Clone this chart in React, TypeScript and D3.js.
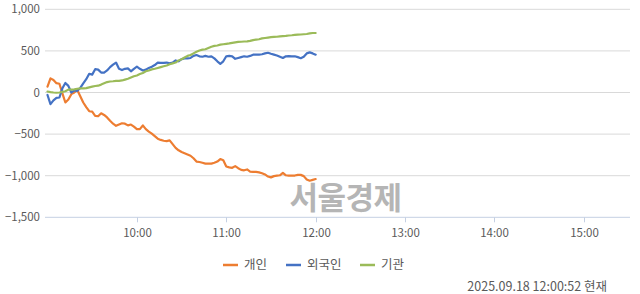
import React from "react";
import * as d3 from "d3";

const times = [
  "09:00","09:02","09:04","09:06","09:08","09:10","09:12","09:14","09:16","09:18",
  "09:20","09:22","09:24","09:26","09:28","09:30","09:32","09:34","09:36","09:38",
  "09:40","09:42","09:44","09:46","09:48","09:50","09:52","09:54","09:56","09:58",
  "10:00","10:02","10:04","10:06","10:08","10:10","10:12","10:14","10:16","10:18",
  "10:20","10:22","10:24","10:26","10:28","10:30","10:32","10:34","10:36","10:38",
  "10:40","10:42","10:44","10:46","10:48","10:50","10:52","10:54","10:56","10:58",
  "11:00","11:02","11:04","11:06","11:08","11:10","11:12","11:14","11:16","11:18",
  "11:20","11:22","11:24","11:26","11:28","11:30","11:32","11:34","11:36","11:38",
  "11:40","11:42","11:44","11:46","11:48","11:50","11:52","11:54","11:56","11:58",
  "12:00",
];

const individual = [
  70, 170, 150, 112, 105, -10, -120, -85, -20, 0,
  30, -45, -120, -175, -225, -230, -280, -285, -250, -270,
  -300, -340, -375, -400, -385, -370, -375, -395, -385, -410,
  -440, -440, -395, -440, -470, -495, -525, -555, -570, -580,
  -585, -575, -620, -665, -695, -715, -730, -745, -760, -790,
  -830, -835, -845, -855, -855, -855, -845, -830, -800, -815,
  -890, -900, -905, -885, -910, -930, -935, -925, -950, -955,
  -955, -960, -970, -985, -1010, -1020, -1005, -1000, -995, -965,
  -995, -1000, -1000, -998, -990, -990, -1005, -1045, -1060, -1050,
  -1040,
];

const foreign = [
  -30, -140, -95, -65, -60, 50, 115, 80, 0, 25,
  20, 55, 110, 160, 225, 215, 280, 275, 240, 240,
  265, 305, 335, 360, 285, 270, 285, 290, 255, 285,
  310, 285, 265, 275, 295, 310, 330, 360, 355, 355,
  360, 350, 360, 385, 375, 400, 410, 410, 415, 440,
  450, 435, 430, 440, 430, 435, 410, 375, 345, 375,
  435, 440, 435, 405, 415, 425, 435, 430, 440, 455,
  455, 455, 460, 470, 478, 465, 455, 445, 430, 415,
  435, 438, 435, 435, 425, 412, 430, 470, 482, 470,
  455,
];

const institution = [
  12, 5, 0, -3, 0, 8, 15, 35, 35, 38,
  45, 50, 50, 52, 62, 70, 78, 82, 95, 110,
  125, 132, 135, 140, 140, 145, 155, 165, 180, 195,
  205, 222, 235, 255, 265, 278, 285, 295, 305, 315,
  325, 340, 350, 360, 385, 400, 420, 440, 450, 470,
  490, 505, 515, 520, 535, 550, 560, 565, 575, 580,
  585, 590, 597, 603, 608, 610, 613, 615, 620, 630,
  635, 640, 650, 655, 660, 665, 668, 670, 675, 678,
  680, 685, 688, 692, 695, 697, 700, 703, 710, 715,
  715,
];

const seriesNames = ["개인", "외국인", "기관"];
const seriesColors = ["#ED7D31", "#4472C4", "#9BBB59"];
const yTicks = [1000, 500, 0, -500, -1000, -1500];
const xTickLabels = ["10:00", "11:00", "12:00", "13:00", "14:00", "15:00"];
const watermark = "서울경제";
const stamp = "2025.09.18 12:00:52 현재";

const W = 640;
const H = 294;
const FONT = "'Noto Sans CJK KR', 'Malgun Gothic', sans-serif";

const parse = d3.timeParse("%H:%M");

export default function App() {
  const x = d3
    .scaleTime()
    .domain([parse("09:00") as Date, parse("15:31") as Date])
    .range([47.5, 630]);
  const y = d3.scaleLinear().domain([-1500, 1000]).range([217.3, 9.3]);

  const allSeries = [individual, foreign, institution];
  const line = d3
    .line<number>()
    .x((_, i) => x(parse(times[i]) as Date))
    .y((v) => y(v));

  const fmt = d3.format(",");

  const legendX = [223, 286, 360];

  return (
    <svg
      width={W}
      height={H}
      style={{ position: "absolute", left: 0, top: 0, background: "#fff" }}
      fontFamily={FONT}
    >
      {yTicks.map((t) => (
        <g key={t}>
          {t !== -1500 && (
            <line x1={45} x2={630} y1={y(t)} y2={y(t)} stroke="#d9d9d9" strokeWidth={1} />
          )}
          <text
            x={40}
            y={y(t)}
            dy="0.35em"
            textAnchor="end"
            fontSize={11.5}
            fill="#595959"
          >
            {fmt(t)}
          </text>
        </g>
      ))}
      <line x1={45} x2={630} y1={y(-1500)} y2={y(-1500)} stroke="#c5d0e3" strokeWidth={1} />
      {xTickLabels.map((l) => {
        const xx = Math.round(x(parse(l) as Date)) + 0.5;
        return (
          <g key={l}>
            <line x1={xx} x2={xx} y1={y(-1500)} y2={y(-1500) + 5} stroke="#c5d0e3" />
            <text x={xx} y={233} dy="0.35em" textAnchor="middle" fontSize={11.5} fill="#595959">
              {l}
            </text>
          </g>
        );
      })}
      <text
        x={345.5}
        y={198}
        dy="0.35em"
        textAnchor="middle"
        fontSize={31}
        fontWeight={700}
        fill="#b5b5b5"
        letterSpacing={-0.5}
      >
        {watermark}
      </text>
      {allSeries.map((s, k) => (
        <path
          key={k}
          d={line(s) || ""}
          fill="none"
          stroke={seriesColors[k]}
          strokeWidth={2.2}
          strokeLinejoin="round"
          strokeLinecap="round"
        />
      ))}
      {seriesNames.map((n, k) => (
        <g key={n}>
          <line
            x1={legendX[k]}
            x2={legendX[k] + 15}
            y1={265}
            y2={265}
            stroke={seriesColors[k]}
            strokeWidth={2.5}
          />
          <text x={legendX[k] + 21} y={265} dy="0.35em" fontSize={12.5} fill="#595959">
            {n}
          </text>
        </g>
      ))}
      <text x={607} y={287} dy="0.35em" textAnchor="end" fontSize={12.5} fill="#595959">
        {stamp}
      </text>
    </svg>
  );
}
